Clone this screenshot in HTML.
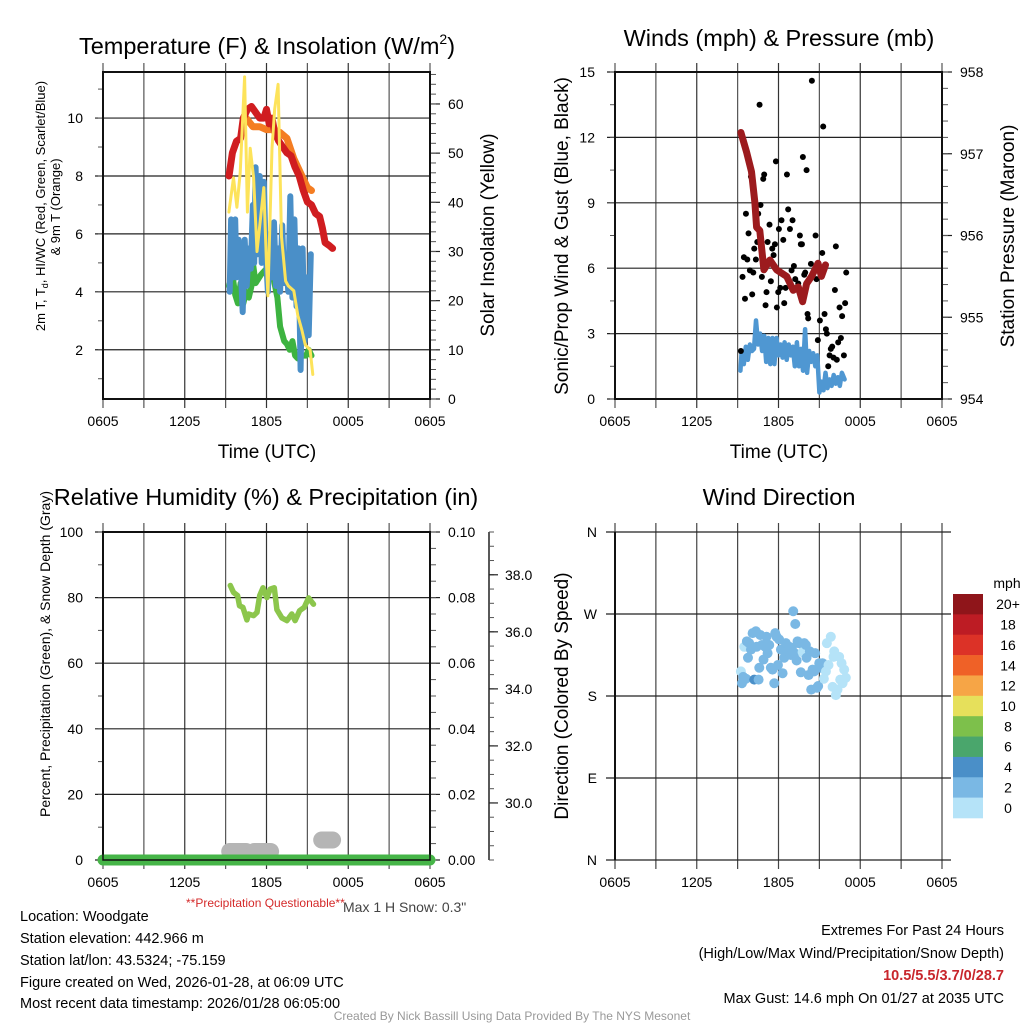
<!DOCTYPE html>
<html><head><meta charset="utf-8"><style>
html,body{margin:0;padding:0;background:#fff;}
svg{display:block;font-family:"Liberation Sans",Arial,sans-serif;}
</style></head><body>
<svg id="fig" width="1024" height="1024" viewBox="0 0 1024 1024" xmlns="http://www.w3.org/2000/svg">
<rect width="1024" height="1024" fill="#fff"/>
<g id="layer"></g>
<text x="267" y="54" font-size="23.5" text-anchor="middle">Temperature (F) &amp; Insolation (W/m<tspan font-size="14" dy="-10">2</tspan><tspan dy="10">)</tspan></text>
<text x="779" y="46" font-size="23.5" text-anchor="middle">Winds (mph) &amp; Pressure (mb)</text>
<text x="266" y="505" font-size="23.5" text-anchor="middle">Relative Humidity (%) &amp; Precipitation (in)</text>
<text x="779" y="505" font-size="23.5" text-anchor="middle">Wind Direction</text>

<text x="267" y="458" font-size="19" text-anchor="middle">Time (UTC)</text>
<text x="779" y="458" font-size="19" text-anchor="middle">Time (UTC)</text>

<g font-size="13" text-anchor="middle">
<text transform="translate(45,206) rotate(-90)">2m T, T<tspan font-size="9" dy="3">d</tspan><tspan dy="-3">, HI/WC (Red, Green, Scarlet/Blue)</tspan></text>
<text transform="translate(60,207) rotate(-90)">&amp; 9m T (Orange)</text>
</g>
<text transform="translate(494,235) rotate(-90)" font-size="19" text-anchor="middle">Solar Insolation (Yellow)</text>
<text transform="translate(568,236) rotate(-90)" font-size="19" text-anchor="middle">Sonic/Prop Wind &amp; Gust (Blue, Black)</text>
<text transform="translate(1014,236) rotate(-90)" font-size="19" text-anchor="middle">Station Pressure (Maroon)</text>
<text transform="translate(50,654) rotate(-90)" font-size="14" text-anchor="middle">Percent, Precipitation (Green), &amp; Snow Depth (Gray)</text>
<text transform="translate(568,696) rotate(-90)" font-size="19" text-anchor="middle">Direction (Colored By Speed)</text>

<text x="186" y="907" font-size="12" fill="#d42a2a">**Precipitation Questionable**</text>
<text x="343" y="912" font-size="14" fill="#444">Max 1 H Snow: 0.3"</text>

<g font-size="14.5">
<text x="20" y="921">Location: Woodgate</text>
<text x="20" y="943">Station elevation: 442.966 m</text>
<text x="20" y="965">Station lat/lon: 43.5324; -75.159</text>
<text x="20" y="987">Figure created on Wed, 2026-01-28, at 06:09 UTC</text>
<text x="20" y="1008">Most recent data timestamp: 2026/01/28 06:05:00</text>
</g>
<g font-size="14.5" text-anchor="end">
<text x="1004" y="935">Extremes For Past 24 Hours</text>
<text x="1004" y="958">(High/Low/Max Wind/Precipitation/Snow Depth)</text>
<text x="1004" y="980" fill="#c8262c" font-weight="bold">10.5/5.5/3.7/0/28.7</text>
<text x="1004" y="1003">Max Gust: 14.6 mph On 01/27 at 2035 UTC</text>
</g>
<text x="512" y="1020" font-size="12" fill="#999" text-anchor="middle">Created By Nick Bassill Using Data Provided By The NYS Mesonet</text>
</svg>
<script>
// ---------- DATA (hours since 0605 UTC) ----------
const xTickLabels = ["0605","1205","1805","0005","0605"];
const tempHours = [9.25,9.5,9.8,10.1,10.3,10.6,10.9,11.2,11.5,11.8,12.0,12.2,12.4,12.6,12.9,13.2,13.5,13.8,14.1,14.4,14.7,15.0,15.3,15.6,15.9,16.1,16.3,16.6,16.85];
const tempValues = [8.0,8.8,9.2,9.3,10.0,10.3,10.4,10.2,10.0,10.0,10.3,9.8,10.0,9.5,9.2,9.0,8.8,8.7,8.3,8.0,7.5,7.1,7.0,6.7,6.6,6.2,5.7,5.6,5.5];
const t9Hours = [10.5,11.0,11.5,12.0,12.5,13.0,13.5,14.0,14.5,15.0,15.3];
const t9Values = [10.0,9.7,9.7,9.6,9.6,9.5,9.3,8.6,8.1,7.6,7.5];
const wcHours = [9.3,9.4,9.55,9.7,9.8,9.95,10.1,10.25,10.4,10.55,10.7,10.85,11.0,11.1,11.2,11.35,11.5,11.65,11.8,11.95,12.1,12.25,12.4,12.55,12.7,12.85,13.0,13.15,13.3,13.45,13.6,13.75,13.9,14.05,14.2,14.35,14.5,14.65,14.8,14.95,15.1,15.25];
const wcValues = [4.0,6.5,4.5,6.5,4.5,5.8,5.0,3.3,5.8,4.2,5.5,4.8,7.0,5.0,8.3,5.3,8.0,5.0,7.8,5.3,4.0,6.0,4.5,6.4,4.2,5.5,4.0,6.3,4.3,5.0,4.0,7.3,3.8,6.5,3.5,5.5,1.3,5.5,2.3,4.5,2.5,5.3];
const tdHours = [9.25,9.5,9.7,9.9,10.1,10.3,10.5,10.7,10.9,11.0,11.2,11.6,12.0,12.5,12.8,13.0,13.3,13.5,13.7,13.9,14.1,14.3,14.6,14.9,15.1,15.3];
const tdValues = [4.2,4.6,3.9,3.6,4.3,3.6,4.0,3.8,4.2,5.0,4.3,4.6,4.8,4.5,3.8,2.8,2.3,2.2,2.0,2.3,1.8,1.7,1.8,1.8,2.0,1.8];
const solHours = [9.24,9.58,9.83,10.07,10.39,10.6,10.8,11.05,11.3,11.8,12.0,12.1,12.4,12.6,12.85,13.1,13.4,13.6,14.0,14.3,14.6,14.85,15.2,15.4];
const solValues = [38,45,39,46,65.5,38,51,45,30,43,27.5,21,51,59,64,33,24,23,22,17,14,11,10,5];

const presHours = [9.24,9.66,10.02,10.27,10.39,10.63,10.93,11.37,11.86,12.6,13.08,13.45,13.77,14.06,14.43,14.9,15.15,15.45];
const presValues = [957.26,957.02,956.78,956.4,956.1,956.06,955.58,955.7,955.58,955.5,955.33,955.37,955.19,955.41,955.5,955.66,955.5,955.64];
const windHours = [9.2,9.3,9.45,9.6,9.75,9.9,10.05,10.2,10.35,10.5,10.65,10.8,10.95,11.1,11.25,11.4,11.55,11.7,11.85,12.0,12.15,12.3,12.45,12.6,12.75,12.9,13.05,13.2,13.35,13.5,13.65,13.8,13.95,14.1,14.25,14.4,14.55,14.7,14.85,15.0,15.15,15.3,15.45,15.6,15.75,15.9,16.05,16.2,16.35,16.5,16.65,16.85];
const windValues = [1.3,2.2,1.6,2.4,1.8,2.5,2.2,2.3,3.6,2.5,3.0,2.2,2.9,1.7,2.8,1.6,2.8,1.6,2.8,2.0,2.5,1.9,2.6,1.8,2.5,2.0,2.4,1.5,2.6,1.5,2.3,1.3,3.2,1.2,2.2,1.7,2.1,1.5,2.0,0.3,0.8,0.4,1.2,0.5,0.9,0.6,1.1,0.7,1.0,0.6,1.2,0.9];
const gustHours = [9.24,9.36,9.46,9.54,9.61,9.71,9.8,9.9,9.98,10.07,10.15,10.22,10.34,10.44,10.51,10.61,10.68,10.78,10.88,10.95,11.05,11.12,11.2,11.34,11.44,11.54,11.64,11.74,11.81,11.88,11.98,12.03,12.13,12.22,12.35,12.42,12.52,12.62,12.71,12.84,12.96,13.03,13.13,13.23,13.45,13.57,13.64,13.72,13.79,13.89,13.96,14.06,14.13,14.18,14.38,14.45,14.72,14.79,14.89,15.04,15.21,15.28,15.38,15.48,15.55,15.65,15.75,15.84,15.94,16.04,16.14,16.21,16.28,16.38,16.48,16.58,16.67,16.8,16.89,16.97];
const gustValues = [2.2,5.6,6.5,4.6,8.5,6.4,7.6,5.9,10.2,4.8,5.8,6.9,6.4,7.2,8.5,13.5,8.9,5.6,10.1,10.3,4.3,4.9,7.2,8.0,5.4,6.9,6.6,7.1,10.9,4.2,4.9,7.8,5.1,8.2,7.3,4.4,5.1,10.3,8.7,7.8,5.9,8.2,6.1,5.5,5.3,7.5,7.1,7.1,11.1,5.7,5.8,10.5,3.9,3.7,6.2,14.6,7.5,5.5,2.7,3.6,6.7,12.5,3.9,3.2,3.0,1.5,2.0,2.3,2.4,1.9,5.0,7.0,1.8,2.6,4.2,2.8,3.8,2.0,4.4,5.8];

const rhHours = [9.34,9.58,9.88,10.02,10.27,10.56,10.68,11.05,11.3,11.5,11.74,12.03,12.27,12.57,12.76,13.13,13.5,13.86,14.1,14.43,14.77,15.09,15.45];
const rhValues = [83.7,81.6,80.6,77.5,77,73.2,75,74.5,75.5,80.6,83,80,82.6,83,76.3,73.8,73,75,73,76,77,79.9,78];
const precipHours = [0,24];
const precipValues = [0,0];
const snowSegHours = [[9.3,10.5],[11.1,12.3],[16.05,16.85]];
const snowSegValues = [28.3,28.3,28.7];

const dirHours = [9.24,9.32,9.41,9.49,9.61,9.68,9.76,9.85,9.98,10.1,10.22,10.34,10.39,10.54,10.59,10.66,10.78,10.9,11.03,11.12,11.2,11.32,11.44,11.56,11.69,11.76,11.86,11.96,12.05,12.18,12.3,12.42,12.54,12.67,12.79,12.91,12.98,13.08,13.18,13.23,13.33,13.4,13.52,13.64,13.72,13.77,13.89,14.01,14.06,14.21,14.3,14.4,14.5,14.62,14.69,14.82,14.91,14.99,15.11,15.23,15.33,15.48,15.55,15.67,15.84,15.97,16.04,16.09,16.21,16.33,16.45,16.53,16.63,16.7,16.82,16.94];
const dirDegrees = [207,194,201,234,199,240,222,238,231,249,198,251,234,198,211,247,236,220,234,245,227,236,211,209,194,249,245,214,242,231,205,222,238,229,234,225,233,273,227,259,219,240,238,206,237,228,238,236,222,203,229,187,209,207,227,189,191,216,211,216,199,207,238,214,245,190,223,229,181,187,223,198,216,194,209,200];
const dirSpeeds = [1,3,3,1,3,3,3,3,3,3,5,3,3,3,3,3,3,3,3,3,3,3,3,3,3,3,3,3,3,3,3,3,3,3,3,3,3,3,3,3,3,3,3,3,3,1,3,3,3,3,3,3,3,3,3,3,3,3.5,3,3,1,1,1,1,1,1,1,1,1,1,1,1,1,1,1,1];

const cbLabels = ["20+","18","16","14","12","10","8","6","4","2","0"];
const cbColors = ["#8f151a","#bd1c24","#dc3227","#ef6127","#f6a546","#e6e05b","#7dc04b","#4aa66c","#4a8fc8","#7ab8e4","#b5e3f8"];

// ---------- DRAWING ----------
const NS="http://www.w3.org/2000/svg";
const layer=document.getElementById('layer');
function el(tag,attrs,parent){const e=document.createElementNS(NS,tag);for(const k in attrs)e.setAttribute(k,attrs[k]);(parent||layer).appendChild(e);return e;}
function speedColor(s){const i=Math.min(10,Math.floor(s/2));return cbColors[10-i];}

const P1={x0:103,x1:430,y0:72,y1:399,lmin:0.3,lmax:11.59,rmin:0,rmax:66.5};
const P2={x0:615,x1:942,y0:72,y1:399,lmin:0,lmax:15,rmin:954,rmax:958};
const P3={x0:103,x1:430,y0:532,y1:860,lmin:0,lmax:100,rmin:0,rmax:0.1};
const P4={x0:615,x1:942,y0:532,y1:860,lmin:0,lmax:360};
function X(P,h){return P.x0+h/24*(P.x1-P.x0);}
function YL(P,v){return P.y1-(v-P.lmin)/(P.lmax-P.lmin)*(P.y1-P.y0);}
function YR(P,v){return P.y1-(v-P.rmin)/(P.rmax-P.rmin)*(P.y1-P.y0);}

function frame(P,name,lmaj,lmin,lfmt,rmaj,rmin,rfmt){
  const g=el('g',{});
  
  
  for(let h=0;h<=24;h+=3){
    const x=X(P,h);
    const ln=el('line',{x1:x,x2:x,y1:P.y0-9,y2:P.y1+9,stroke:(h%6==0&&h>0&&h<24)?'#333':'#555','stroke-width':1.2},g);
    
    
  }
  xTickLabels.forEach((t,i)=>{
    const tx=el('text',{x:X(P,i*6),y:P.y1+27,'font-size':14,'text-anchor':'middle'},g);
    
    
    tx.textContent=t;
  });
  lmaj.forEach(v=>{
    const y=YL(P,v);
    el('line',{x1:P.x0-8,x2:P.x1,y1:y,y2:y,stroke:'#222','stroke-width':1.2},g);
    const tx=el('text',{x:P.x0-20,y:y+5,'font-size':14,'text-anchor':'end'},g);
    
    
    tx.textContent=lfmt(v);
  });
  lmin.forEach(v=>{const y=YL(P,v);el('line',{x1:P.x0-5,x2:P.x0,y1:y,y2:y,stroke:'#555','stroke-width':1},g);});
  rmaj.forEach(v=>{
    const y=YR(P,v);
    el('line',{x1:P.x1,x2:P.x1+10,y1:y,y2:y,stroke:'#222','stroke-width':1.2},g);
    const tx=el('text',{x:P.x1+18,y:y+5,'font-size':14},g);
    
    
    tx.textContent=rfmt(v);
  });
  rmin.forEach(v=>{const y=YR(P,v);el('line',{x1:P.x1,x2:P.x1+6,y1:y,y2:y,stroke:'#555','stroke-width':1},g);});
  el('rect',{x:P.x0,y:P.y0,width:P.x1-P.x0,height:P.y1-P.y0,fill:'none',stroke:'#111','stroke-width':2},g);
}
function range(a,b,s){const r=[];for(let v=a;v<=b+1e-9;v+=s)r.push(+v.toFixed(4));return r;}
function poly(P,hs,vs,yf,color,w,name){
  const pts=hs.map((h,i)=>X(P,h).toFixed(1)+','+yf(P,vs[i]).toFixed(1)).join(' ');
  const p=el('polyline',{points:pts,fill:'none',stroke:color,'stroke-width':w,'stroke-linejoin':'round','stroke-linecap':'round'});
  
  
}

// Panel 1
frame(P1,'temp',[2,4,6,8,10],range(1,11,1),v=>String(v),[0,10,20,30,40,50,60],range(0,66,2),v=>String(v));
poly(P1,t9Hours,t9Values,YL,'#f47d22',7,'9m-temperature-line');
poly(P1,tempHours,tempValues,YL,'#d01d20',7,'temperature-line');
poly(P1,tdHours,tdValues,YL,'#3db340',6,'dewpoint-line');
poly(P1,wcHours,wcValues,YL,'#4a8fc8',6,'wind-chill-line');
poly(P1,solHours,solValues,YR,'#fde35a',3,'insolation-line');

// Panel 2
frame(P2,'wind',[0,3,6,9,12,15],range(0,15,1.5),v=>String(v),[954,955,956,957,958],range(954,958,0.2),v=>String(v));
poly(P2,windHours,windValues,YL,'#4f97d2',4.5,'wind-speed-line');
gustHours.forEach((h,i)=>{
  const c=el('circle',{cx:X(P2,h),cy:YL(P2,gustValues[i]),r:3,fill:'#000'});
  
  
});
poly(P2,presHours,presValues,YR,'#9c1b1e',7,'pressure-line');

// Panel 3
frame(P3,'rh',[0,20,40,60,80,100],range(0,100,10),v=>String(v),[0,0.02,0.04,0.06,0.08,0.1],range(0,0.1,0.005),v=>v.toFixed(2));
(function(){
  const g=el('g',{});
  
  
  const smin=28,smax=39.5,ax=489;
  const SY=v=>P3.y1-(v-smin)/(smax-smin)*(P3.y1-P3.y0);
  el('line',{x1:ax,x2:ax,y1:P3.y0,y2:P3.y1,stroke:'#222','stroke-width':1.5},g);
  range(28,39.5,0.5).forEach(v=>{const y=SY(v);el('line',{x1:ax,x2:ax+5,y1:y,y2:y,stroke:'#555','stroke-width':1},g);});
  [30,32,34,36,38].forEach(v=>{
    const y=SY(v);
    el('line',{x1:ax,x2:ax+9,y1:y,y2:y,stroke:'#222','stroke-width':1.2},g);
    const tx=el('text',{x:ax+16,y:y+5,'font-size':14},g);
    
    
    tx.textContent=v.toFixed(1);
  });
  snowSegHours.forEach((s,i)=>{
    const y=SY(snowSegValues[i]);
    const l=el('line',{x1:X(P3,s[0]),x2:X(P3,s[1]),y1:y,y2:y,stroke:'#b5b5b5','stroke-width':17,'stroke-linecap':'round'});
    
    
  });
})();
poly(P3,precipHours,precipValues,YR,'#46b548',11,'precipitation-line');
poly(P3,rhHours,rhValues,YL,'#8cc64c',5.5,'relative-humidity-line');
el('rect',{x:P3.x0,y:P3.y0,width:P3.x1-P3.x0,height:P3.y1-P3.y0,fill:'none',stroke:'#111','stroke-width':1.5});

// Panel 4
(function(){
  const P=P4;
  const g=el('g',{});
  
  
  for(let h=0;h<=24;h+=3){const x=X(P,h);el('line',{x1:x,x2:x,y1:P.y0-9,y2:P.y1+9,stroke:'#444','stroke-width':1.2},g);}
  xTickLabels.forEach((t,i)=>{const tx=el('text',{x:X(P,i*6),y:P.y1+27,'font-size':14,'text-anchor':'middle'},g);tx.textContent=t;});
  const dl=["N","E","S","W","N"];
  [0,90,180,270,360].forEach((d,i)=>{
    const y=YL(P,d);
    el('line',{x1:P.x0-9,x2:P.x1+9,y1:y,y2:y,stroke:'#222','stroke-width':1.2},g);
    const tx=el('text',{x:P.x0-18,y:y+5,'font-size':14,'text-anchor':'end'},g);
    
    
    tx.textContent=dl[i];
  });
  el('line',{x1:P.x0,x2:P.x0,y1:P.y0,y2:P.y1,stroke:'#111','stroke-width':2},g);
  dirHours.forEach((h,i)=>{
    const c=el('circle',{cx:X(P,h),cy:YL(P,dirDegrees[i]),r:5,fill:speedColor(dirSpeeds[i])});
    
    
  });
  const cb=el('g',{});
  
  
  const mt=el('text',{x:1007,y:588,'font-size':14,'text-anchor':'middle'},cb);mt.textContent='mph';
  const h0=594,bh=(818-594)/cbColors.length;
  cbColors.forEach((c,i)=>{
    el('rect',{x:953,y:h0+i*bh,width:30,height:bh+0.3,fill:c},cb);
    const t=el('text',{x:1008,y:h0+i*bh+bh/2+5,'font-size':14,'text-anchor':'middle'},cb);
    
    
    t.textContent=cbLabels[i];
  });
})();
</script>
</body></html>
